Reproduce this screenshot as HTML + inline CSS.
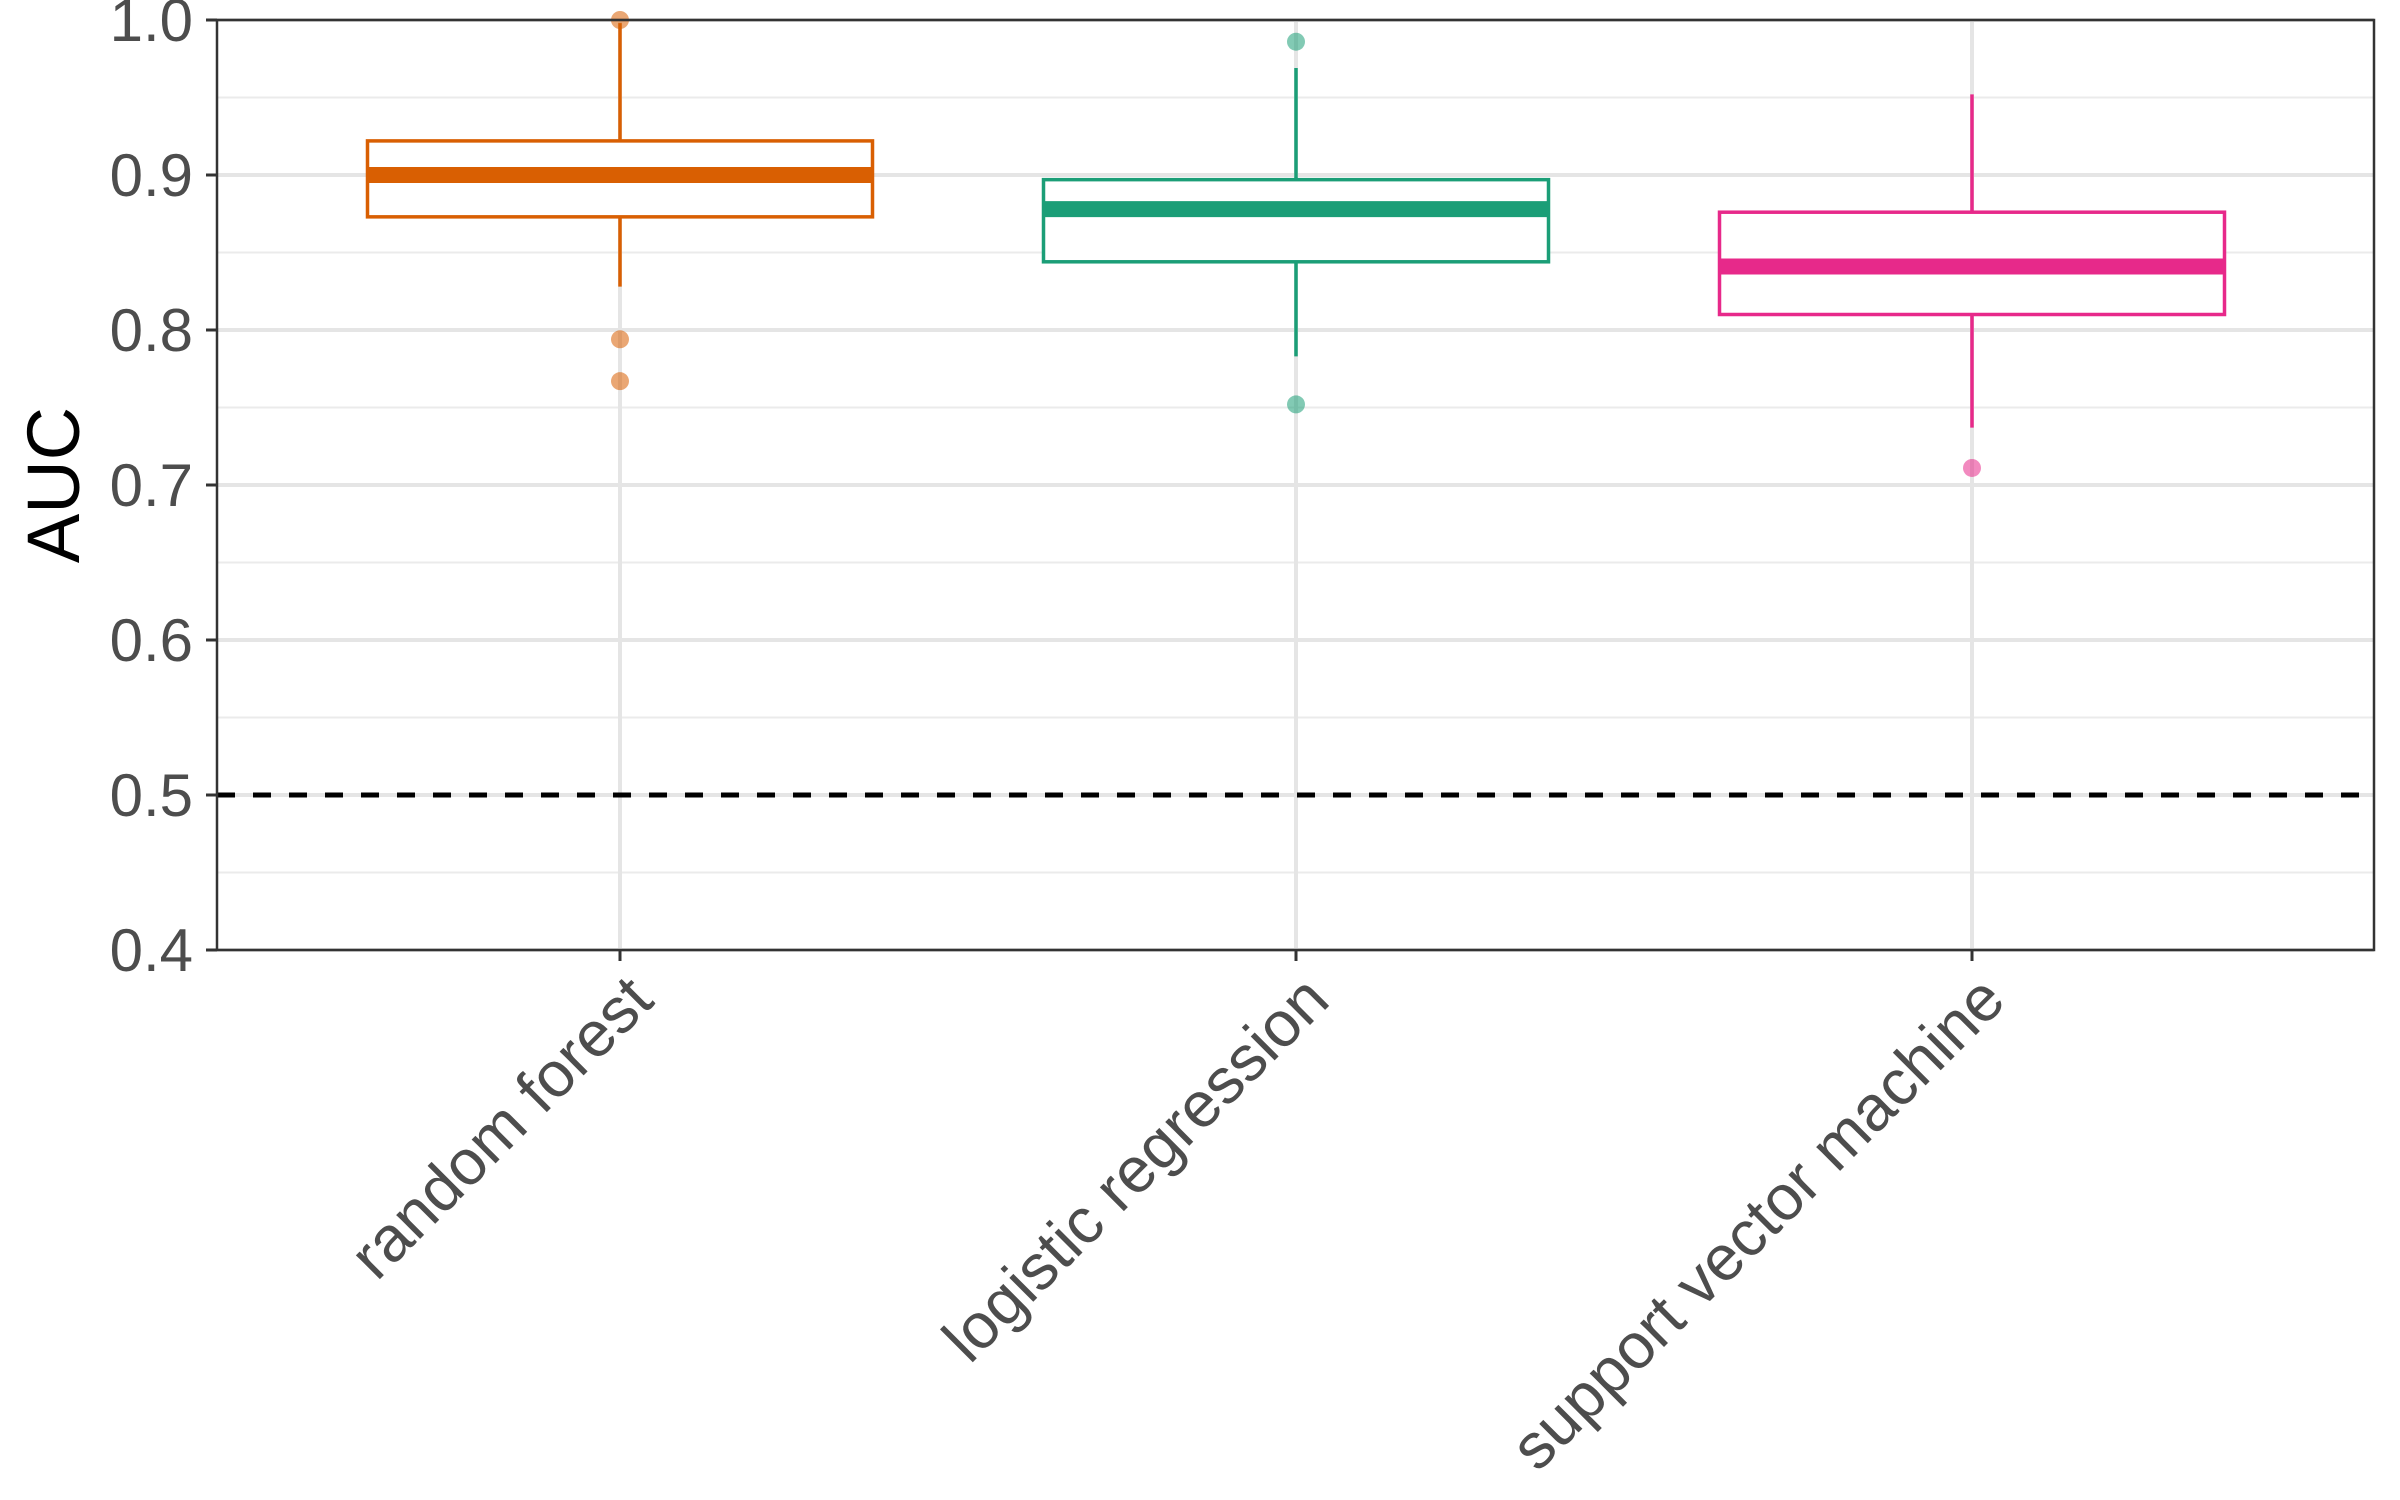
<!DOCTYPE html>
<html><head><meta charset="utf-8"><style>
html,body{margin:0;padding:0;background:#fff;}
svg{display:block;font-family:"Liberation Sans",sans-serif;}
</style></head><body>
<svg id="chart" width="2400" height="1500" viewBox="0 0 2400 1500">
<g id="grid"></g>
<g id="marks"></g>
<g id="axes"></g>
<text x="0" y="0" transform="translate(79,485) rotate(-90)" text-anchor="middle" font-size="74" fill="#000">AUC</text>
</svg>
<script>
const categories = ["random forest","logistic regression","support vector machine"];
const colors = ["#D95F02","#1B9E77","#E7298A"];
const whiskerLow = [0.828, 0.783, 0.737];
const q1 = [0.873, 0.844, 0.810];
const median = [0.900, 0.878, 0.841];
const q3 = [0.922, 0.897, 0.876];
const whiskerHigh = [0.998, 0.969, 0.952];
const outliers = [[0.794, 0.767, 1.0],[0.752, 0.986],[0.711]];
const yTicks = [0.4,0.5,0.6,0.7,0.8,0.9,1.0];
const yTickLabels = ["0.4","0.5","0.6","0.7","0.8","0.9","1.0"];
const refLine = 0.5;

const L=217,R=2374,T=20,B=950;
const yMin=0.4,yMax=1.0;
const ys=v=>B-(v-yMin)/(yMax-yMin)*(B-T);
function xc(i){return 620+676*i;}
const NS="http://www.w3.org/2000/svg";
function mk(tag,attrs,parent){const e=document.createElementNS(NS,tag);for(const k in attrs)e.setAttribute(k,attrs[k]);parent.appendChild(e);return e;}
const grid=document.getElementById('grid'),marks=document.getElementById('marks'),axes=document.getElementById('axes');
for(let i=0;i<yTicks.length-1;i++){
  const v=(yTicks[i]+yTicks[i+1])/2;
  const l=mk('line',{x1:L,x2:R,y1:ys(v),y2:ys(v),stroke:'#ebebeb','stroke-width':2},grid);
  
  
}
yTicks.forEach((v,i)=>{
  const l=mk('line',{x1:L,x2:R,y1:ys(v),y2:ys(v),stroke:'#e5e5e5','stroke-width':4},grid);
  
  
});
categories.forEach((c,i)=>{
  const l=mk('line',{x1:xc(i),x2:xc(i),y1:T,y2:B,stroke:'#e5e5e5','stroke-width':4},grid);
  
  
});
const ref=mk('line',{x1:L,x2:R,y1:ys(refLine),y2:ys(refLine),stroke:'#000','stroke-width':5,'stroke-dasharray':'18,18'},marks);


const bw=505;
categories.forEach((c,i)=>{
  const x=xc(i),col=colors[i];
  const g=mk('g',{},marks);
  
  
  mk('line',{x1:x,x2:x,y1:ys(whiskerHigh[i]),y2:ys(q3[i]),stroke:col,'stroke-width':3.5},g);
  mk('line',{x1:x,x2:x,y1:ys(q1[i]),y2:ys(whiskerLow[i]),stroke:col,'stroke-width':3.5},g);
  mk('rect',{x:x-bw/2,y:ys(q3[i]),width:bw,height:ys(q1[i])-ys(q3[i]),fill:'#fff',stroke:col,'stroke-width':3.5},g);
  mk('line',{x1:x-bw/2,x2:x+bw/2,y1:ys(median[i]),y2:ys(median[i]),stroke:col,'stroke-width':16},g);
  outliers[i].forEach(v=>{
    const p=mk('circle',{cx:x,cy:ys(v),r:9,fill:col,'fill-opacity':0.55},g);
    
    
  });
});
const bd=mk('rect',{x:L,y:T,width:R-L,height:B-T,fill:'none',stroke:'#333','stroke-width':2.5},axes);


yTicks.forEach((v,i)=>{
  mk('line',{x1:L-11,x2:L,y1:ys(v),y2:ys(v),stroke:'#333','stroke-width':3},axes);
  const t=mk('text',{x:193,y:ys(v)+21,'text-anchor':'end','font-size':60,fill:'#4d4d4d'},axes);
  t.textContent=yTickLabels[i];
  
  
});
categories.forEach((c,i)=>{
  const x=xc(i);
  mk('line',{x1:x,x2:x,y1:B,y2:B+11,stroke:'#333','stroke-width':3},axes);
  const t=mk('text',{x:0,y:0,'text-anchor':'end','font-size':64,fill:'#4d4d4d',transform:`translate(${x+36},1003) rotate(-45)`},axes);
  t.textContent=c;
  
  
});
</script>
</body></html>
